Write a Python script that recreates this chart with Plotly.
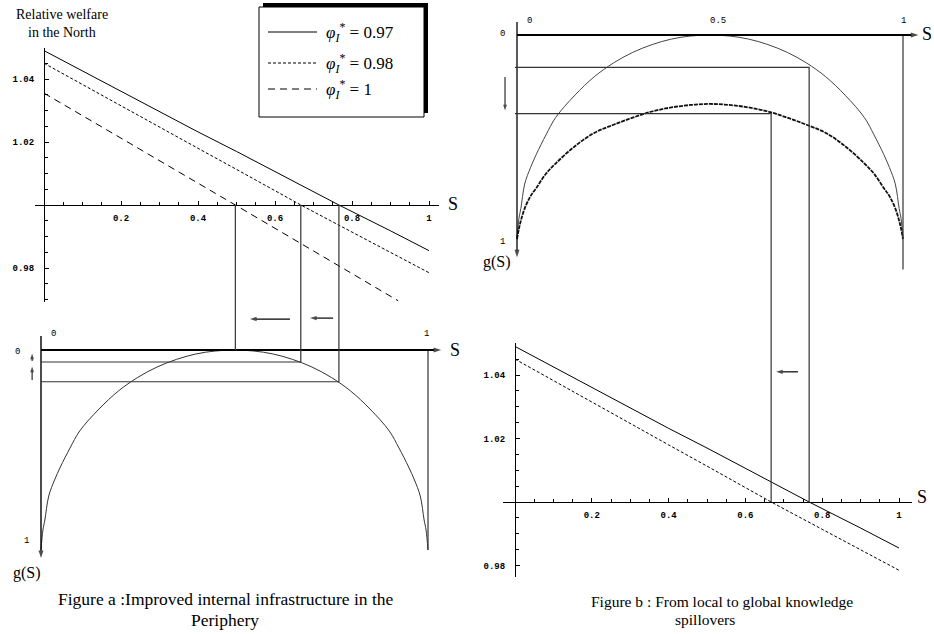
import numpy as np
import plotly.graph_objects as go

# ---------------- data ----------------
# g(S): local spillovers (outer curve) and global spillovers (inner curve)
S_grid = [0, 0.005, 0.01, 0.02, 0.035, 0.05, 0.075, 0.1, 0.15, 0.2, 0.25, 0.3, 0.35, 0.4, 0.45, 0.5,
          0.55, 0.6, 0.65, 0.7, 0.75, 0.8, 0.85, 0.9, 0.925, 0.95, 0.965, 0.98, 0.99, 0.995, 1.0]
g_local = [1.0, 0.90, 0.85, 0.73, 0.65, 0.585, 0.49, 0.405, 0.295, 0.205, 0.137, 0.085, 0.047, 0.02, 0.005, 0.0,
           0.005, 0.02, 0.047, 0.085, 0.137, 0.205, 0.295, 0.405, 0.49, 0.585, 0.65, 0.73, 0.85, 0.90, 1.0]
g_global = [1.0, 0.95, 0.91, 0.85, 0.79, 0.75, 0.68, 0.63, 0.545, 0.48, 0.44, 0.405, 0.375, 0.355, 0.343, 0.338,
            0.343, 0.355, 0.375, 0.405, 0.44, 0.48, 0.545, 0.63, 0.68, 0.75, 0.79, 0.85, 0.91, 0.95, 1.0]

# relative welfare in the North
S_097 = [0, 0.1, 0.2, 0.3, 0.4, 0.5, 0.6, 0.7, 0.766, 0.9, 1.0]
W_097 = [1.049, 1.0425, 1.036, 1.0295, 1.0232, 1.017, 1.0106, 1.0042, 1.0, 0.9918, 0.9855]
S_098 = [0, 0.1, 0.2, 0.3, 0.4, 0.5, 0.6, 0.667, 0.8, 0.9, 1.0]
W_098 = [1.045, 1.0382, 1.0315, 1.0248, 1.018, 1.0113, 1.0045, 1.0, 0.9914, 0.985, 0.9785]
S_1 = [0, 0.1, 0.2, 0.3, 0.4, 0.497, 0.6, 0.7, 0.8, 0.92]
W_1 = [1.0355, 1.0284, 1.0212, 1.014, 1.0069, 1.0, 0.9926, 0.9854, 0.9782, 0.9696]

phi_values = ["0.97", "0.98", "1"]
xtick_vals = [0.2, 0.4, 0.6, 0.8, 1.0]
xtick_text = ["0.2", "0.4", "0.6", "0.8", "1"]
ytick_vals = [0.98, 1.02, 1.04]
ytick_text = ["0.98", "1.02", "1.04"]

# ---------------- layout geometry ----------------
W, H = 934, 634
OFF = 0  # body margin removed by post_script
PANELS = {
    "aw": dict(s0=44, s1=429, vref=1.0, pref=205, k=-3150, box=(35, 439, 48, 302), ax=("x", "y")),
    "bg": dict(s0=517, s1=903, vref=0.0, pref=35, k=204, box=(495, 930, 12, 280), ax=("x2", "y2")),
    "ag": dict(s0=41, s1=428, vref=0.0, pref=350, k=200, box=(20, 445, 322, 566), ax=("x3", "y3")),
    "bw": dict(s0=515, s1=899, vref=1.0, pref=502, k=-3175, box=(503, 912, 343, 577), ax=("x4", "y4")),
}


def px_of(p, s):
    P = PANELS[p]
    return P["s0"] + (P["s1"] - P["s0"]) * s


def py_of(p, v):
    P = PANELS[p]
    return P["pref"] + P["k"] * (v - P["vref"])


def s_of(p, px):
    P = PANELS[p]
    return (px - P["s0"]) / (P["s1"] - P["s0"])


def v_of(p, py):
    P = PANELS[p]
    return P["vref"] + (py - P["pref"]) / P["k"]


def fx(px):
    return (px - OFF) / W


def fy(py):
    return 1 - (py - OFF) / H


def crossing(S, Wv):
    return float(np.interp(1.0, Wv[::-1], S[::-1]))


SERIF = "Liberation Serif"
MONO = "Liberation Mono"
TICKFONT = dict(family=MONO, size=9, color="black", weight="bold")

fig = go.Figure()


def add_line(p, xs, ys, dash="solid", width=1.0, color="black", name=None, shape="linear"):
    xa, ya = PANELS[p]["ax"]
    fig.add_trace(go.Scatter(x=xs, y=ys, mode="lines", xaxis=xa, yaxis=ya, name=name,
                             showlegend=False, hoverinfo="skip",
                             line=dict(color=color, width=width, dash=dash, shape=shape)))


def phi_name(v):
    return "<i>φ</i><sub><i>I</i></sub><sup>*</sup> = " + v


DASH_098 = "3px,2px"
DASH_1 = "7px,5px"
STYLES = [("solid", 1.1), (DASH_098, 1.1), (DASH_1, 1.1)]

# ---- Figure a, top: welfare ----
add_line("aw", S_097, W_097, dash=STYLES[0][0], name=phi_name(phi_values[0]))
add_line("aw", S_098, W_098, dash=STYLES[1][0], name=phi_name(phi_values[1]))
add_line("aw", S_1, W_1, dash=STYLES[2][0], name=phi_name(phi_values[2]))

# ---- Figure b, bottom: welfare ----
add_line("bw", S_097, W_097, dash=STYLES[0][0], name=phi_name(phi_values[0]))
add_line("bw", S_098, W_098, dash=STYLES[1][0], name=phi_name(phi_values[1]))

# ---- Figure a, bottom: g(S) ----
add_line("ag", S_grid, g_local, color="#333", width=1.0, shape="spline")
add_line("ag", [1, 1], [0, 1], color="#333", width=1.2)

# ---- Figure b, top: g(S) ----
add_line("bg", S_grid, g_local, color="#444", width=1.0, shape="spline")
add_line("bg", S_grid, g_global, color="#111", width=1.8, dash="4px,1px", shape="spline")
add_line("bg", [1, 1], [0, 1.15], color="#333", width=1.2)


# ---- arrows drawn on a full-page overlay axis (pixel units) ----
def arrow(p, s_tail, v_tail, s_head, v_head, width=1.2, size=7, symbol="arrow"):
    xs = [px_of(p, s_tail), px_of(p, s_head)]
    ys = [py_of(p, v_tail), py_of(p, v_head)]
    fig.add_trace(go.Scatter(x=xs, y=ys, mode="lines+markers", xaxis="x5", yaxis="y5", showlegend=False,
                             hoverinfo="skip", line=dict(color="black", width=width),
                             marker=dict(symbol=symbol, angleref="previous", size=[0, size], color="black",
                                         line=dict(width=0))))


# axes of the g(S) panels (with arrow heads)
arrow("ag", 0, 0, 1.034, 0, width=2.0, size=8)
arrow("ag", 0, -0.07, 0, 1.04, width=1.4, size=8)
arrow("bg", 0, 0, 1.04, 0, width=2.0, size=8)
arrow("bg", 0, -0.064, 0, 1.09, width=1.3, size=8)

# direction arrows
arrow("aw", 0.639, 0.9638, 0.535, 0.9638, width=1.2, size=7)
arrow("aw", 0.751, 0.9641, 0.691, 0.9641, width=1.2, size=7)
arrow("ag", -0.023, 0.055, -0.023, 0.018, width=1.0, size=6)
arrow("ag", -0.023, 0.15, -0.023, 0.083, width=1.0, size=6)
arrow("bg", -0.031, 0.206, -0.031, 0.37, width=1.0, size=6)
arrow("bw", 0.737, 1.041, 0.68, 1.041, width=1.2, size=7)

shapes = []
annotations = []

# connectors: crossing of welfare with 1 -> g level -> back to the g axis
cross_a = [crossing(S_1, W_1), crossing(S_098, W_098), crossing(S_097, W_097)]
for s in cross_a:
    gl = float(np.interp(s, S_grid, g_local))
    x_top = fx(px_of("aw", s))
    path = "M {:.5f} {:.5f} L {:.5f} {:.5f}".format(x_top, fy(py_of("aw", 1.0)), x_top, fy(py_of("ag", gl)))
    if gl > 0.01:
        path += " L {:.5f} {:.5f}".format(fx(px_of("ag", 0)), fy(py_of("ag", gl)))
    shapes.append(dict(type="path", path=path, xref="paper", yref="paper", line=dict(color="#333", width=1.2)))

cross_b = [(crossing(S_098, W_098), g_global), (crossing(S_097, W_097), g_local)]
for s, gcurve in cross_b:
    gl = float(np.interp(s, S_grid, gcurve))
    x_v = fx(px_of("bw", s))
    path = "M {:.5f} {:.5f} L {:.5f} {:.5f} L {:.5f} {:.5f}".format(
        fx(px_of("bg", 0) - 2), fy(py_of("bg", gl)), x_v, fy(py_of("bg", gl)), x_v, fy(py_of("bw", 1.0)))
    shapes.append(dict(type="path", path=path, xref="paper", yref="paper", line=dict(color="#333", width=1.2)))

# ---- legend box (with shadow) ----
LEG = dict(x0=259, x1=424, y0=7, y1=117, shadow=4, sx0=268, sx1=317, tx=324, rows=[32, 63, 89])
shapes.append(dict(type="rect", xref="paper", yref="paper",
                   x0=fx(LEG["x0"] + LEG["shadow"]), x1=fx(LEG["x1"] + LEG["shadow"]),
                   y0=fy(LEG["y1"] - LEG["shadow"]), y1=fy(LEG["y0"] - LEG["shadow"]),
                   fillcolor="black", line=dict(width=0), layer="above"))
shapes.append(dict(type="rect", xref="paper", yref="paper", x0=fx(LEG["x0"]), x1=fx(LEG["x1"]),
                   y0=fy(LEG["y1"]), y1=fy(LEG["y0"]), fillcolor="white",
                   line=dict(color="black", width=1), layer="above"))
for (dash, wid), row in zip(STYLES, LEG["rows"]):
    shapes.append(dict(type="line", xref="paper", yref="paper", x0=fx(LEG["sx0"]), x1=fx(LEG["sx1"]),
                       y0=fy(row), y1=fy(row), line=dict(color="black", width=wid, dash=dash), layer="above"))


def txt(px, py, text, size, family=SERIF, xanchor="center"):
    annotations.append(dict(x=fx(px), y=fy(py), xref="paper", yref="paper", text=text, showarrow=False,
                            xanchor=xanchor, yanchor="middle",
                            font=dict(family=family, size=size, color="black")))


for v, row in zip(phi_values, LEG["rows"]):
    txt(LEG["tx"], row, phi_name(v), 17, xanchor="left")

txt(62, 15, "Relative welfare", 14)
txt(62, 32, "in the North", 14)
txt(453, 204, "S", 18)
txt(455, 350, "S", 18)
txt(53, 334, "0", 9, MONO)
txt(426, 334, "1", 9, MONO)
txt(17, 352, "0", 9, MONO)
txt(26, 541, "1", 9, MONO)
txt(27, 573, "g(S)", 16)
txt(529, 21, "0", 9, MONO)
txt(718, 21, "0.5", 9, MONO)
txt(903, 21, "1", 9, MONO)
txt(503, 34, "0", 9, MONO)
txt(927, 34, "S", 18)
txt(503, 242, "1", 9, MONO)
txt(497, 262, "g(S)", 16)
txt(922, 497, "S", 18)
txt(226, 599, "Figure a :Improved internal infrastructure in the", 17.5)
txt(225, 620, "Periphery", 17.5)
txt(722, 601, "Figure b : From local to global knowledge", 15.5)
txt(705, 619, "spillovers", 15.5)

layout = dict(width=W, height=H, margin=dict(l=0, r=0, t=0, b=0), plot_bgcolor="rgba(0,0,0,0)",
              paper_bgcolor="white", shapes=shapes, annotations=annotations, showlegend=False)

for p, P in PANELS.items():
    bx0, bx1, by0, by1 = P["box"]
    xa, ya = P["ax"]
    xkey = "xaxis" + xa[1:]
    ykey = "yaxis" + ya[1:]
    xr = [s_of(p, bx0), s_of(p, bx1)]
    yr = [v_of(p, by1), v_of(p, by0)]
    if p in ("aw", "bw"):
        layout[xkey] = dict(domain=[fx(bx0), fx(bx1)], range=xr, anchor="free", position=fy(py_of(p, 1.0)),
                            showline=True, linecolor="black", linewidth=1.2, ticks="inside", ticklen=4,
                            tickcolor="black", tickvals=xtick_vals, ticktext=xtick_text, tickfont=TICKFONT,
                            ticklabelstandoff=4, showgrid=False, zeroline=False, fixedrange=True,
                            minor=dict(ticks="inside", ticklen=3, dtick=0.05, tick0=0, tickcolor="black",
                                       showgrid=False))
        layout[ykey] = dict(domain=[fy(by1), fy(by0)], range=yr, anchor="free", position=fx(px_of(p, 0)),
                            showline=True, linecolor="black", linewidth=1.2, ticks="inside", ticklen=4,
                            tickcolor="black", tickvals=ytick_vals, ticktext=ytick_text, tickfont=TICKFONT,
                            ticklabelstandoff=8, showgrid=False, zeroline=False, fixedrange=True,
                            minor=dict(ticks="inside", ticklen=3, dtick=0.005, tick0=1.0, tickcolor="black",
                                       showgrid=False))
    else:
        layout[xkey] = dict(domain=[fx(bx0), fx(bx1)], range=xr, visible=False, anchor=ya, fixedrange=True)
        layout[ykey] = dict(domain=[fy(by1), fy(by0)], range=yr, visible=False, anchor=xa, fixedrange=True)

# full-page overlay axis in pixel units (for arrows)
layout["xaxis5"] = dict(domain=[0, 1], range=[OFF, OFF + W], visible=False, anchor="y5", fixedrange=True)
layout["yaxis5"] = dict(domain=[0, 1], range=[OFF + H, OFF], visible=False, anchor="x5", fixedrange=True)

fig.update_layout(**layout)
fig.write_html("out.html", config={"displayModeBar": False},
               post_script="document.body.style.margin='0px';")
